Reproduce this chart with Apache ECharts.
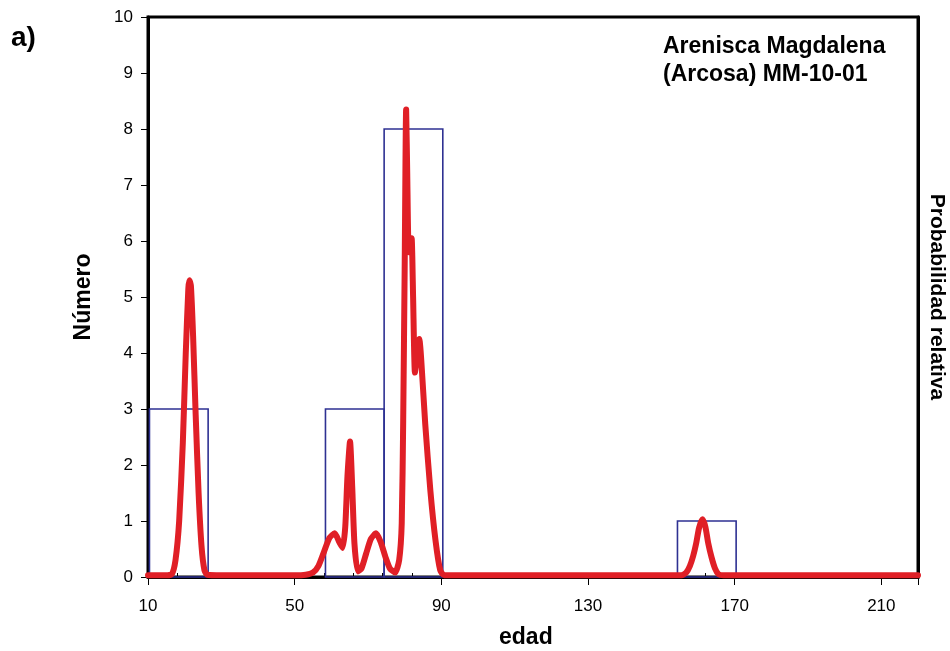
<!DOCTYPE html>
<html>
<head>
<meta charset="utf-8">
<script src="https://cdn.jsdelivr.net/npm/echarts@6/dist/echarts.min.js"></script>
<style>
html,body{margin:0;padding:0;background:#fff;}
#chart{width:950px;height:651px;}
</style>
</head>
<body>
<div id="chart"></div>
<script>
// Histogram bins (edad) and counts (Número)
var binStart = [10.4, 58.4, 74.4, 154.4];
var binEnd   = [26.4, 74.4, 90.4, 170.4];
var binCount = [3, 3, 8, 1];

// Relative probability curve
var curveX = [10, 15, 16.5, 17.5, 18.5, 19.5, 20.3, 21.0, 21.3, 21.7, 22.3, 23.0, 23.8, 24.6, 25.4, 26.2, 30,
  50, 53, 55, 56.5, 58, 59.5, 60.9, 62.2, 63.1, 63.8, 64.4, 65.1, 65.7, 66.3, 67.2, 68.2, 69.5, 70.8, 72.2, 73.5, 74.8, 76.0, 77.4,
  78.5, 79.2, 79.6, 80.0, 80.4, 80.7, 81.1, 81.5, 81.9, 82.3, 82.8, 83.3, 84.0, 84.5, 85.6, 87.0, 88.4, 89.7, 90.8,
  150, 155.5, 156.8, 157.8, 158.7, 159.5, 160.3, 161.2, 162.0, 162.8, 163.7, 164.6, 165.6, 167, 220];
var curveY = [0.03, 0.03, 0.05, 0.3, 1.0, 2.4, 4.0, 5.15, 5.3, 5.2, 4.3, 2.9, 1.5, 0.55, 0.12, 0.04, 0.03,
  0.03, 0.04, 0.08, 0.2, 0.45, 0.7, 0.78, 0.62, 0.52, 0.9, 1.8, 2.42, 1.6, 0.6, 0.1, 0.15, 0.42, 0.68, 0.78, 0.62, 0.35, 0.15, 0.08,
  0.3, 0.96, 2.8, 5.5, 8.35, 7.2, 5.8, 5.8, 6.05, 5.0, 3.65, 3.9, 4.25, 3.9, 2.74, 1.55, 0.66, 0.12, 0.03,
  0.03, 0.03, 0.08, 0.2, 0.38, 0.6, 0.88, 1.03, 0.9, 0.6, 0.35, 0.16, 0.05, 0.03, 0.03];

// Axis tick labels
var xTickLabels = [10, 50, 90, 130, 170, 210];
var yTickLabels = [0, 1, 2, 3, 4, 5, 6, 7, 8, 9, 10];

var FONT = '"Liberation Sans", Arial, sans-serif';

var histData = binStart.map(function (s, i) { return [s, binEnd[i], binCount[i]]; });
var curveData = curveX.map(function (x, i) { return [x, curveY[i]]; });

var chart = echarts.init(document.getElementById('chart'), null, {renderer: 'canvas'});
chart.setOption({
  backgroundColor: '#ffffff',
  animation: false,
  title: [
    {text: 'a)', left: 11, top: 24, padding: 0,
     textStyle: {fontFamily: FONT, fontWeight: 'bold', fontSize: 28, color: '#000'}},
    {text: 'Arenisca Magdalena\n(Arcosa) MM-10-01', left: 663, top: 33, padding: 0,
     textStyle: {fontFamily: FONT, fontWeight: 'bold', fontSize: 23, lineHeight: 28, color: '#000'}}
  ],
  graphic: [
    {type: 'text', left: 499, top: 626, z: 10,
     style: {text: 'edad', fontFamily: FONT, fontWeight: 'bold', fontSize: 23, fill: '#000'}}
  ],
  grid: {left: 148, right: 32, top: 17, bottom: 74, containLabel: false, outerBoundsMode: 'none',
         show: true, borderColor: '#000', borderWidth: 3, backgroundColor: 'transparent'},
  xAxis: [
    {
      type: 'value', min: 10, max: 220, interval: 40, position: 'bottom',
      axisLine: {lineStyle: {color: '#000', width: 3}},
      axisTick: {show: true, inside: false, length: 8, lineStyle: {color: '#000', width: 1}},
      axisLabel: {fontFamily: FONT, fontSize: 17, color: '#000', margin: 21,
        formatter: function (v) { return xTickLabels.indexOf(v) >= 0 ? String(v) : ''; }},
      splitLine: {show: false}
    },
    {
      type: 'value', min: 10, max: 220, interval: 8, position: 'bottom',
      axisLine: {show: false},
      axisTick: {show: true, inside: true, length: 4, lineStyle: {color: '#000', width: 1}},
      axisLabel: {show: false},
      splitLine: {show: false}
    }
  ],
  yAxis: [
    {
      type: 'value', min: 0, max: 10, interval: 1, position: 'left',
      name: 'Número', nameLocation: 'middle', nameGap: 53, nameRotate: 90,
      nameTextStyle: {fontFamily: FONT, fontWeight: 'bold', fontSize: 23, color: '#000'},
      axisLine: {show: true, lineStyle: {color: '#000', width: 3}},
      axisTick: {show: true, inside: false, length: 7, lineStyle: {color: '#000', width: 1}},
      axisLabel: {fontFamily: FONT, fontSize: 17, color: '#000', margin: 15,
        formatter: function (v) { return yTickLabels.indexOf(v) >= 0 ? String(v) : ''; }},
      splitLine: {show: false}
    },
    {
      type: 'value', min: 0, max: 10, position: 'right',
      name: 'Probabilidad relativa', nameLocation: 'middle', nameGap: 8, nameRotate: -90,
      nameTextStyle: {fontFamily: FONT, fontWeight: 'bold', fontSize: 21, color: '#000'},
      axisLine: {show: true, lineStyle: {color: '#000', width: 3}},
      axisTick: {show: false},
      axisLabel: {show: false},
      splitLine: {show: false}
    }
  ],
  series: [
    {
      type: 'custom', xAxisIndex: 0, yAxisIndex: 0, z: 2,
      data: histData,
      renderItem: function (params, api) {
        var p0 = api.coord([api.value(0), 0]);
        var p1 = api.coord([api.value(1), api.value(2)]);
        return {
          type: 'rect',
          shape: {x: p0[0], y: p1[1], width: p1[0] - p0[0], height: p0[1] - p1[1]},
          style: {fill: 'none', stroke: '#2e3192', lineWidth: 1.6}
        };
      }
    },
    {
      type: 'line', xAxisIndex: 0, yAxisIndex: 1, z: 3,
      data: curveData, showSymbol: false, smooth: 0.2,
      lineStyle: {color: '#e01f26', width: 6, cap: 'round', join: 'round'}
    }
  ]
});
</script>
</body>
</html>
